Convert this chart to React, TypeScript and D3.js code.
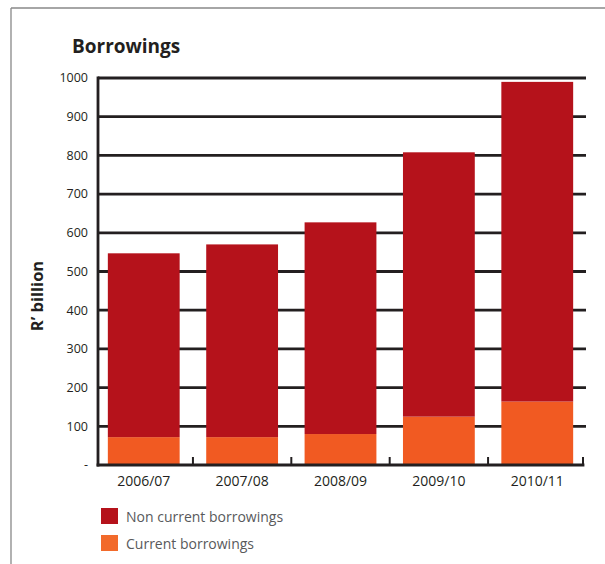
import React from "react";
import * as d3 from "d3";

const categories = ["2006/07", "2007/08", "2008/09", "2009/10", "2010/11"];
const currentBorrowings = [72, 72, 80, 125, 164];
const nonCurrentBorrowings = [475, 498, 547, 683, 826];
const yTicks = [0, 100, 200, 300, 400, 500, 600, 700, 800, 900, 1000];
const seriesNames = ["Non current borrowings", "Current borrowings"];
const seriesColors = ["#b5121b", "#f15a22"];

const W = 605;
const H = 564;
const FONT = "'Open Sans', 'Noto Sans', sans-serif";

export default function App() {
  const left = 98;
  const right = 583;
  const top = 78;
  const bottom = 465;

  const x = d3
    .scaleBand<string>()
    .domain(categories)
    .range([left, right])
    .paddingInner(0.27)
    .paddingOuter(0.1);
  const y = d3.scaleLinear().domain([0, 1000]).range([bottom, top]);

  const rows = categories.map((c, i) => ({
    cat: c,
    current: currentBorrowings[i],
    nonCurrent: nonCurrentBorrowings[i],
  }));
  const stack = d3.stack<any>().keys(["current", "nonCurrent"])(rows);

  const step = x.step();
  const bw = x.bandwidth();
  const tickXs = categories.map((c, i) =>
    i === categories.length - 1 ? right : (x(c) as number) + bw + (step - bw) / 2
  );

  return (
    <svg
      width={W}
      height={H}
      style={{ position: "absolute", left: 0, top: 0, background: "#fff" }}
    >
      {/* frame */}
      <line x1={11} y1={8} x2={W} y2={8} stroke="#888" strokeWidth={1.3} />
      <line x1={11} y1={8} x2={11} y2={H} stroke="#888" strokeWidth={1.3} />

      <text x={72} y={53} fontFamily={FONT} fontWeight={700} fontSize={19} fill="#231f20">
        Borrowings
      </text>

      {/* gridlines */}
      {yTicks
        .filter((t) => t > 0)
        .map((t) => (
          <line
            key={t}
            x1={left}
            x2={586}
            y1={y(t)}
            y2={y(t)}
            stroke="#231f20"
            strokeWidth={2.8}
          />
        ))}

      {/* y tick labels */}
      {yTicks.map((t) => (
        <text
          key={t}
          x={88}
          y={y(t)}
          dy="0.35em"
          textAnchor="end"
          fontFamily={FONT}
          fontSize={12.5}
          fill="#231f20"
        >
          {t === 0 ? "-" : t}
        </text>
      ))}

      {/* bars */}
      {stack.map((layer, li) =>
        layer.map((d: any, i: number) => (
          <rect
            key={li + "-" + i}
            x={x(categories[i])}
            width={bw}
            y={y(d[1])}
            height={y(d[0]) - y(d[1])}
            fill={li === 0 ? seriesColors[1] : seriesColors[0]}
          />
        ))
      )}

      {/* axes */}
      <line x1={left} x2={left} y1={top - 1.4} y2={bottom + 1.4} stroke="#231f20" strokeWidth={2.8} />
      <line x1={left - 1.4} x2={right + 1.4} y1={bottom} y2={bottom} stroke="#231f20" strokeWidth={2.8} />
      {tickXs.map((tx, i) => (
        <line key={i} x1={tx} x2={tx} y1={bottom} y2={bottom - 8} stroke="#231f20" strokeWidth={2} />
      ))}

      {/* x labels */}
      {categories.map((c) => (
        <text
          key={c}
          x={(x(c) as number) + bw / 2}
          y={486}
          textAnchor="middle"
          fontFamily={FONT}
          fontSize={14}
          fill="#231f20"
        >
          {c}
        </text>
      ))}

      {/* y axis title */}
      <text
        transform={`translate(43, 296) rotate(-90)`}
        textAnchor="middle"
        fontFamily={FONT}
        fontWeight={700}
        fontSize={16.5}
        fill="#231f20"
      >
        R’ billion
      </text>

      {/* legend */}
      {seriesNames.map((s, i) => (
        <g key={s} transform={`translate(101, ${508 + i * 27})`}>
          <rect width={17} height={16} fill={i === 0 ? seriesColors[0] : "#f26a2b"} />
          <text x={25} y={13.5} fontFamily={FONT} fontSize={14} fill="#58595b">
            {s}
          </text>
        </g>
      ))}
    </svg>
  );
}
